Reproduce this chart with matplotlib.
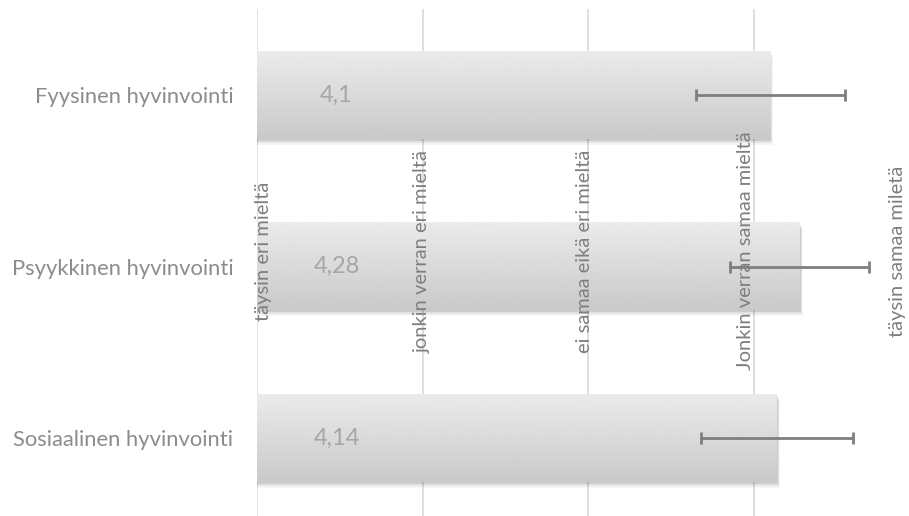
import numpy as np
import matplotlib.pyplot as plt

plt.rcParams['font.family'] = ['Lato', 'DejaVu Sans']

# data
categories = ['Fyysinen hyvinvointi', 'Psyykkinen hyvinvointi', 'Sosiaalinen hyvinvointi']
means = [4.1, 4.28, 4.14]
value_labels = ['4,1', '4,28', '4,14']
errors = [0.45, 0.42, 0.46]
scale_ticks = [1, 2, 3, 4, 5]
scale_labels = ['täysin eri mieltä', 'jonkin verran eri mieltä', 'ei samaa eikä eri mieltä',
                'Jonkin verran samaa mieltä', 'täysin samaa miletä']
label_shift = [0.04, 0.0, -0.02, -0.05, -0.13]

fig = plt.figure(figsize=(9.09, 5.16), dpi=100)
ax = fig.add_axes([257 / 909, -7.75 / 516, 662 / 909, 514.5 / 516])

for s in ax.spines.values():
    s.set_visible(False)

ax.set_xticks(scale_ticks)
ax.set_xticklabels([])
ax.tick_params(axis='x', length=0)
ax.grid(axis='x', color='#d9d9d9', lw=1.2, zorder=0)
ax.set_axisbelow(True)

ax.set_yticks(range(len(categories)))
ax.set_yticklabels(categories, fontsize=15.8, color='#8c8c8c')
ax.tick_params(axis='y', length=0, pad=17)

# gradient bars with a soft shadow
h = 0.51
grad = np.linspace(0.92, 0.79, 64).reshape(-1, 1)
for i, v in enumerate(means):
    for k, a in enumerate([0.10, 0.07, 0.04]):
        d = 0.006 * (k + 1)
        ax.add_patch(plt.Rectangle((1, i - h / 2 + d * 2), v - 1 + d, h, color='black',
                                   alpha=a, lw=0, zorder=1))
    ax.imshow(grad, cmap='gray', vmin=0, vmax=1, aspect='auto',
              extent=(1, v, i + h / 2, i - h / 2), zorder=2, interpolation='bilinear')
    ax.text(1.48, i, value_labels[i], fontsize=17, color='#a6a6a6',
            ha='center', va='center', zorder=3)

ax.set_xlim(1, 5)
ax.set_ylim(2.5, -0.5)

# scale labels written vertically across the plot
for t, lab, sh in zip(scale_ticks, scale_labels, label_shift):
    ax.text(t + sh, 0.91, lab, rotation=90, fontsize=14.5, color='#7f7f7f',
            ha='center', va='center', zorder=3, clip_on=False)

ax.errorbar(means, range(len(categories)), xerr=errors, fmt='none', ecolor='#7f7f7f',
            elinewidth=2, capsize=4.5, capthick=2, zorder=4)

fig.savefig('out.png', dpi=100)
